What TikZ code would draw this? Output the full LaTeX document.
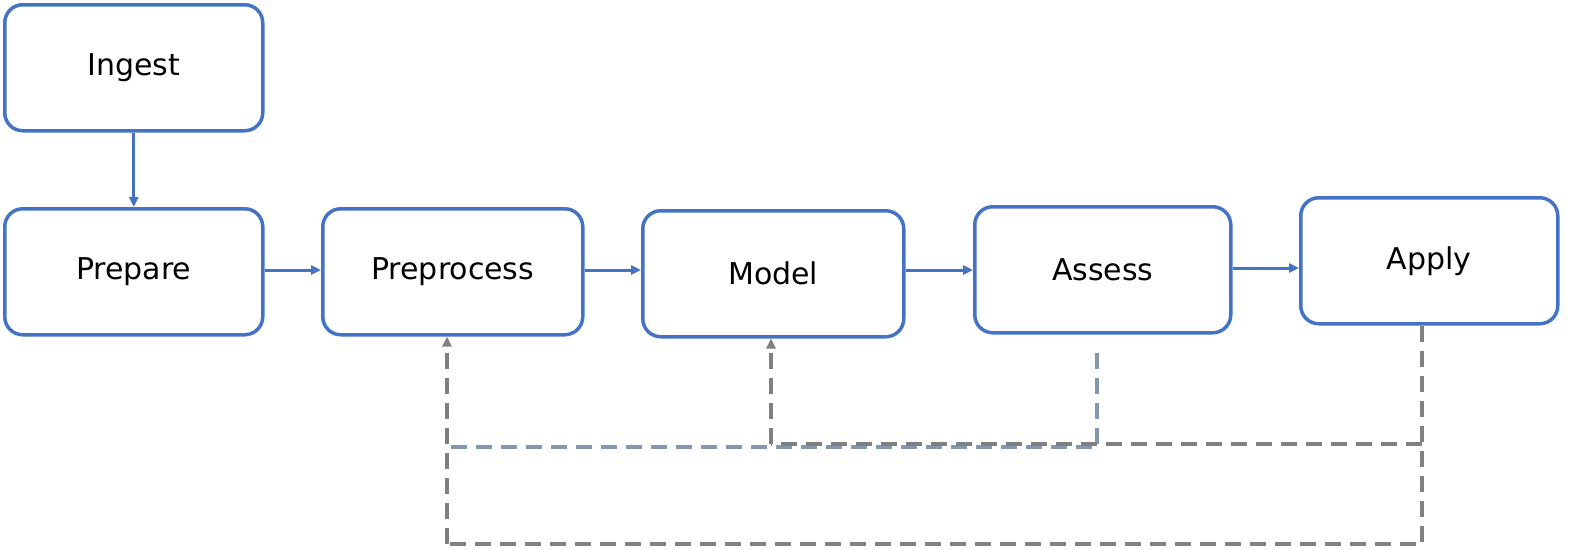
\documentclass[tikz,border=0pt]{standalone}
\usepackage{fontspec}
\setmainfont{DejaVu Sans}
\usetikzlibrary{arrows.meta}
\definecolor{bl}{HTML}{4472C4}
\definecolor{gr}{HTML}{808080}
\definecolor{gb}{HTML}{8497B0}
\begin{document}
\begin{tikzpicture}[x=1pt,y=-1pt,
 box/.style={draw=bl,line width=3.5pt,rounded corners=18pt,minimum width=258pt,minimum height=126pt,font=\fontsize{30}{34}\selectfont,anchor=north west,inner sep=0pt},
 ar/.style={draw=bl,line width=3pt,-{Triangle[length=10pt,width=9pt]}},
 dsh/.style={line width=3.5pt,dash pattern=on 16pt off 9pt},
 dar/.style={dsh,-{Triangle[length=10pt,width=9pt]}}]
\useasboundingbox (0,0) rectangle (1594,550);
\node[box] (ing) at (3,3) {Ingest};
\node[box] (pre) at (3,207) {Prepare};
\node[box,minimum width=260pt] (pp) at (321,207) {Preprocess};
\node[box,minimum width=261pt] (mod) at (641,209) {Model};
\node[box,minimum width=256pt] (as) at (973,205) {Assess};
\node[box,minimum width=257pt] (ap) at (1299,196) {Apply};
\draw[ar] (ing.south) -- (pre.north);
\draw[ar] (pre.east|-0,270) -- (pp.west|-0,270);
\draw[ar] (pp.east|-0,270) -- (mod.west|-0,270);
\draw[ar] (mod.east|-0,270) -- (as.west|-0,270);
\draw[ar] (as.east|-0,268) -- (ap.west|-0,268);
\coordinate (a1) at (1422,544);
\coordinate (a2) at (447,544);
\coordinate (m1) at (1422,444);
\coordinate (m2) at (771,444);
\coordinate (s1) at (1097,447);
\coordinate (s2) at (447,447);
\draw[dsh,gb] (as.south-|s1) ++(0,18) -- (s1) -- (s2);
\draw[dsh,gr] (m1) -- (m2);
\draw[dar,gr] (m2) -- (mod.south-|m2);
\draw[dsh,gr] (ap.south-|a1) -- (a1) -- (a2);
\draw[dar,gr] (a2) -- (pp.south-|a2);
\end{tikzpicture}
\end{document}
